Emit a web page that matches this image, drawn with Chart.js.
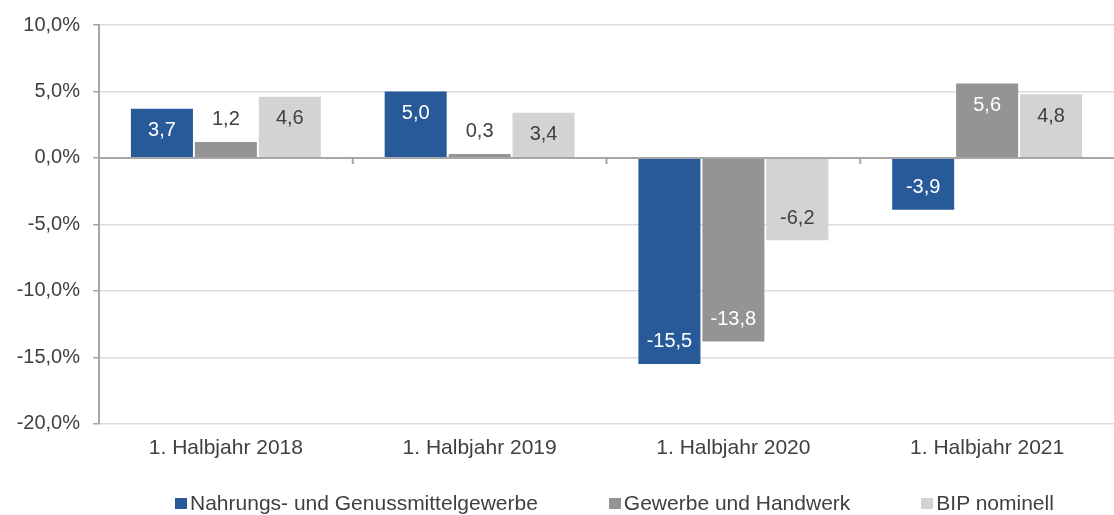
<!DOCTYPE html>
<html lang="de">
<head>
<meta charset="UTF-8">
<title>Halbjahr Vergleich</title>
<script src="https://cdn.jsdelivr.net/npm/chart.js@4/dist/chart.umd.min.js"></script>
<style>
    html, body { margin: 0; padding: 0; background: #fff; overflow: hidden; }
    .wrap { position: relative; width: 1114px; height: 515px; }
    .legende {
        position: absolute; left: 175px; top: 490px;
        display: flex; align-items: center;
        font-family: "Liberation Sans", Arial, sans-serif; font-size: 21px; color: #404040;
        white-space: nowrap; line-height: 26px;
    }
    .item { display: flex; align-items: center; margin-right: 71px; }
    .box { width: 12px; height: 11px; margin-right: 3px; }
</style>
</head>
<body>
<div class="wrap">
    <canvas id="grafik" width="1114" height="515"></canvas>
    <div class="legende" id="legende"></div>
</div>
<script>
    const kategorien = ['1. Halbjahr 2018', '1. Halbjahr 2019', '1. Halbjahr 2020', '1. Halbjahr 2021'];
    const nahrung = [3.7, 5.0, -15.5, -3.9];
    const gewerbe = [1.2, 0.3, -13.8, 5.6];
    const bip = [4.6, 3.4, -6.2, 4.8];
    const reihen = ['Nahrungs- und Genussmittelgewerbe', 'Gewerbe und Handwerk', 'BIP nominell'];
    const farben = ['#285a9a', '#949494', '#d3d3d3'];
    const textFarben = ['#ffffff', '#ffffff', '#404040'];

    const schrift = { family: '"Liberation Sans", Arial, sans-serif', size: 20 };

    // Werte in die Balken schreiben
    const wertePlugin = {
        id: 'werte',
        afterDatasetsDraw(chart) {
            const ctx = chart.ctx;
            ctx.save();
            ctx.font = '20px "Liberation Sans", Arial, sans-serif';
            ctx.textAlign = 'center';
            ctx.textBaseline = 'middle';
            chart.data.datasets.forEach((ds, i) => {
                const meta = chart.getDatasetMeta(i);
                meta.data.forEach((bar, j) => {
                    const v = ds.data[j];
                    const text = v.toFixed(1).replace('.', ',');
                    const laenge = Math.abs(bar.base - bar.y);
                    let y;
                    if (laenge > 40) {
                        y = v >= 0 ? bar.y + 22 : bar.y - 22;
                        ctx.fillStyle = textFarben[i];
                    } else {
                        y = v >= 0 ? bar.y - 22 : bar.y + 22;
                        ctx.fillStyle = '#404040';
                    }
                    ctx.fillText(text, bar.x, y);
                });
            });
            ctx.restore();
        }
    };

    // Nulllinie mit Strichen zwischen den Kategorien
    const nullPlugin = {
        id: 'nulllinie',
        afterDatasetsDraw(chart) {
            const ctx = chart.ctx;
            const x = chart.scales.x;
            const y0 = chart.scales.y.getPixelForValue(0);
            ctx.save();
            ctx.strokeStyle = '#a6a6a6';
            ctx.lineWidth = 2;
            ctx.beginPath();
            ctx.moveTo(chart.chartArea.left, y0);
            ctx.lineTo(chart.chartArea.right, y0);
            for (let i = 0; i < kategorien.length - 1; i++) {
                const xm = (x.getPixelForValue(i) + x.getPixelForValue(i + 1)) / 2;
                ctx.moveTo(xm, y0);
                ctx.lineTo(xm, y0 + 6);
            }
            ctx.stroke();
            ctx.restore();
        }
    };

    const daten = [nahrung, gewerbe, bip];

    new Chart(document.getElementById('grafik'), {
        type: 'bar',
        data: {
            labels: kategorien,
            datasets: reihen.map((name, i) => ({
                label: name,
                data: daten[i],
                backgroundColor: farben[i],
                categoryPercentage: 0.756,
                barPercentage: 0.97
            }))
        },
        options: {
            responsive: false,
            animation: false,
            layout: { padding: { top: 23, right: 0, bottom: 42, left: 0 } },
            plugins: {
                legend: { display: false },
                tooltip: { enabled: false }
            },
            scales: {
                x: {
                    grid: { display: false, drawTicks: false },
                    border: { display: false },
                    ticks: { font: { family: schrift.family, size: 21 }, color: '#404040', padding: 12, maxRotation: 0 }
                },
                y: {
                    min: -20,
                    max: 10,
                    afterFit(s) { s.width = 99; },
                    border: { display: true, color: '#a6a6a6', width: 2 },
                    grid: {
                        color: '#dcdcdc',
                        lineWidth: 1.5,
                        tickColor: '#a6a6a6',
                        tickLength: 6
                    },
                    ticks: {
                        stepSize: 5,
                        font: schrift,
                        color: '#404040',
                        padding: 13,
                        callback: v => v.toFixed(1).replace('.', ',') + '%'
                    }
                }
            }
        },
        plugins: [nullPlugin, wertePlugin]
    });

    const legende = document.getElementById('legende');
    reihen.forEach((name, i) => {
        const item = document.createElement('div');
        item.className = 'item';
        const box = document.createElement('span');
        box.className = 'box';
        box.style.background = farben[i];
        const txt = document.createElement('span');
        txt.textContent = name;
        item.appendChild(box);
        item.appendChild(txt);
        legende.appendChild(item);
    });
</script>
</body>
</html>
